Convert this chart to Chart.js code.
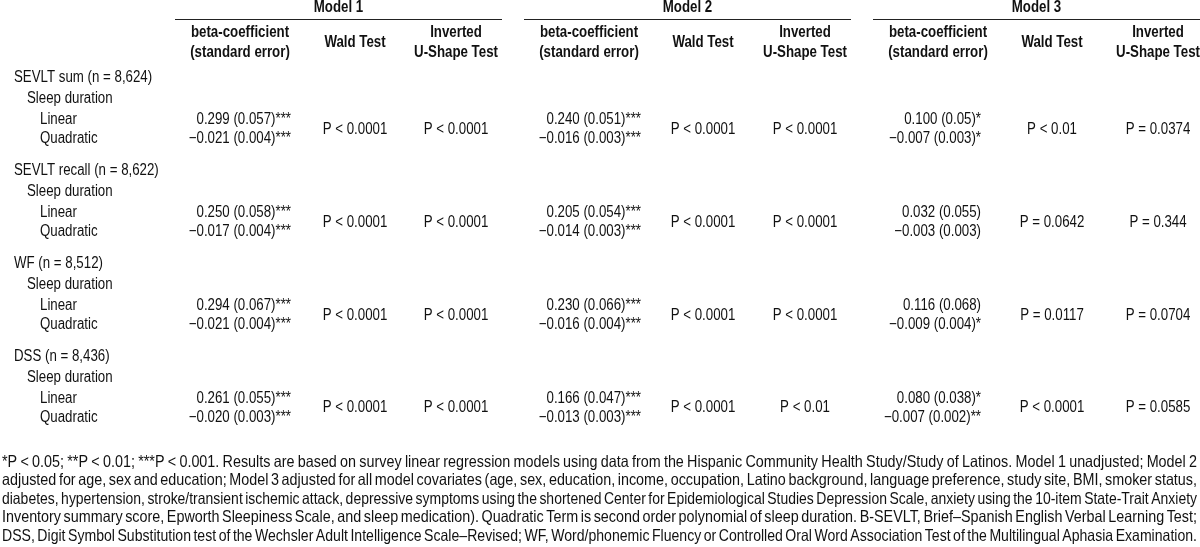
<!DOCTYPE html>
<html>
<head>
<meta charset="utf-8">
<script src="https://cdn.jsdelivr.net/npm/chart.js@4"></script>
<style>
  html, body { margin: 0; padding: 0; background: #fff; }
  #wrap { width: 1200px; height: 547px; }
</style>
</head>
<body>
<div id="wrap"><canvas id="tbl" width="1200" height="547"></canvas></div>
<script>
// ---- table content ----
const modelNames = ["Model 1", "Model 2", "Model 3"];
const columnHeads = [["beta-coefficient", "(standard error)"], ["Wald Test"], ["Inverted", "U-Shape Test"]];
const outcomes = ["SEVLT sum (n = 8,624)", "SEVLT recall (n = 8,622)", "WF (n = 8,512)", "DSS (n = 8,436)"];
const predictor = "Sleep duration";
const terms = ["Linear", "Quadratic"];

const model1Linear = ["0.299 (0.057)***", "0.250 (0.058)***", "0.294 (0.067)***", "0.261 (0.055)***"];
const model1Quad = ["\u22120.021 (0.004)***", "\u22120.017 (0.004)***", "\u22120.021 (0.004)***", "\u22120.020 (0.003)***"];
const model1Wald = ["P < 0.0001", "P < 0.0001", "P < 0.0001", "P < 0.0001"];
const model1UShape = ["P < 0.0001", "P < 0.0001", "P < 0.0001", "P < 0.0001"];

const model2Linear = ["0.240 (0.051)***", "0.205 (0.054)***", "0.230 (0.066)***", "0.166 (0.047)***"];
const model2Quad = ["\u22120.016 (0.003)***", "\u22120.014 (0.003)***", "\u22120.016 (0.004)***", "\u22120.013 (0.003)***"];
const model2Wald = ["P < 0.0001", "P < 0.0001", "P < 0.0001", "P < 0.0001"];
const model2UShape = ["P < 0.0001", "P < 0.0001", "P < 0.0001", "P < 0.01"];

const model3Linear = ["0.100 (0.05)*", "0.032 (0.055)", "0.116 (0.068)", "0.080 (0.038)*"];
const model3Quad = ["\u22120.007 (0.003)*", "\u22120.003 (0.003)", "\u22120.009 (0.004)*", "\u22120.007 (0.002)**"];
const model3Wald = ["P < 0.01", "P = 0.0642", "P = 0.0117", "P < 0.0001"];
const model3UShape = ["P = 0.0374", "P = 0.344", "P = 0.0704", "P = 0.0585"];

const footnoteLines = [
  "*P < 0.05; **P < 0.01; ***P < 0.001.  Results are based on survey linear regression models using data from the Hispanic Community Health Study/Study of Latinos. Model 1 unadjusted; Model 2",
  "adjusted for age, sex and education; Model 3 adjusted for all model covariates (age, sex, education, income, occupation, Latino background, language preference, study site, BMI, smoker status,",
  "diabetes, hypertension, stroke/transient ischemic attack, depressive symptoms using the shortened Center for Epidemiological Studies Depression Scale, anxiety using the 10-item State-Trait Anxiety",
  "Inventory summary score, Epworth Sleepiness Scale, and sleep medication). Quadratic Term is second order polynomial of sleep duration. B-SEVLT, Brief\u2013Spanish English Verbal Learning Test;",
  "DSS, Digit Symbol Substitution test of the Wechsler Adult Intelligence Scale\u2013Revised; WF, Word/phonemic Fluency or Controlled Oral Word Association Test of the Multilingual Aphasia Examination."
];

// ---- layout (scale units = pixels of the 1200x547 page) ----
const models = [
  { linear: model1Linear, quad: model1Quad, wald: model1Wald, ushape: model1UShape, rule: [175, 502], betaRight: 291, cols: [240, 355, 456] },
  { linear: model2Linear, quad: model2Quad, wald: model2Wald, ushape: model2UShape, rule: [524, 851], betaRight: 641, cols: [589, 703, 805] },
  { linear: model3Linear, quad: model3Quad, wald: model3Wald, ushape: model3UShape, rule: [873, 1200], betaRight: 981, cols: [938, 1052, 1158] }
];
const groupTop = 78, groupStep = 92.8;
const FONT = '"Liberation Sans", Arial, sans-serif';
const SIZE = 16;
const NARROW = 0.83;   // no Arial Narrow here, so squeeze Arial metrics
const NOTE_SIZE = 16.5, NOTE_NARROW = 0.87;

function narrowText(ctx, str, x, y, sx) {
  ctx.save();
  ctx.translate(x, y);
  ctx.scale(sx || NARROW, 1);
  ctx.fillText(str, 0, 0);
  ctx.restore();
}

const tablePlugin = {
  id: "tablePlugin",
  afterDraw(chart) {
    const ctx = chart.ctx;
    const x = chart.scales.x, y = chart.scales.y;
    const px = v => x.getPixelForValue(v);
    const py = v => y.getPixelForValue(v);
    ctx.save();
    ctx.fillStyle = "#111";
    ctx.textBaseline = "middle";

    // header
    ctx.font = "bold " + SIZE + "px " + FONT;
    ctx.textAlign = "center";
    models.forEach((m, i) => {
      narrowText(ctx, modelNames[i], px((m.rule[0] + m.rule[1]) / 2), py(8));
      ctx.strokeStyle = "#222";
      ctx.lineWidth = 1;
      ctx.beginPath();
      ctx.moveTo(px(m.rule[0]), Math.round(py(19)) + 0.5);
      ctx.lineTo(px(m.rule[1]), Math.round(py(19)) + 0.5);
      ctx.stroke();
      columnHeads.forEach((h, c) => {
        if (h.length === 2) {
          narrowText(ctx, h[0], px(m.cols[c]), py(33));
          narrowText(ctx, h[1], px(m.cols[c]), py(53));
        } else {
          narrowText(ctx, h[0], px(m.cols[c]), py(43));
        }
      });
    });

    // body
    ctx.font = SIZE + "px " + FONT;
    outcomes.forEach((name, g) => {
      const top = groupTop + g * groupStep;
      ctx.textAlign = "left";
      narrowText(ctx, name, px(14), py(top));
      narrowText(ctx, predictor, px(27), py(top + 21));
      narrowText(ctx, terms[0], px(40), py(top + 42));
      narrowText(ctx, terms[1], px(40), py(top + 61));
      models.forEach(m => {
        ctx.textAlign = "right";
        narrowText(ctx, m.linear[g], px(m.betaRight), py(top + 42));
        narrowText(ctx, m.quad[g], px(m.betaRight), py(top + 61));
        ctx.textAlign = "center";
        narrowText(ctx, m.wald[g], px(m.cols[1]), py(top + 51.5));
        narrowText(ctx, m.ushape[g], px(m.cols[2]), py(top + 51.5));
      });
    });

    // footnote, justified between the two edges
    ctx.font = NOTE_SIZE + "px " + FONT;
    ctx.textAlign = "left";
    const left = px(2), right = px(1197);
    footnoteLines.forEach((line, i) => {
      const words = line.split(/\s+/);
      let sx = NOTE_NARROW;
      const raw = words.map(w => ctx.measureText(w).width);
      const rawTotal = raw.reduce((a, b) => a + b, 0);
      const minGap = 2.5;
      if (rawTotal * sx + minGap * (words.length - 1) > right - left) {
        sx = (right - left - minGap * (words.length - 1)) / rawTotal;
      }
      const widths = raw.map(w => w * sx);
      const total = rawTotal * sx;
      const gap = (right - left - total) / (words.length - 1);
      let cx = left;
      words.forEach((w, k) => {
        narrowText(ctx, w, cx, py(462 + i * 18.5), sx);
        cx += widths[k] + gap;
      });
    });
    ctx.restore();
  }
};

new Chart(document.getElementById("tbl"), {
  type: "scatter",
  data: { datasets: [{ data: [], pointRadius: 0 }] },
  options: {
    responsive: false,
    animation: false,
    layout: { padding: 0 },
    plugins: { legend: { display: false }, tooltip: { enabled: false } },
    scales: {
      x: { type: "linear", min: 0, max: 1200, display: false },
      y: { type: "linear", min: 0, max: 547, reverse: true, display: false }
    }
  },
  plugins: [tablePlugin]
});
</script>
</body>
</html>
